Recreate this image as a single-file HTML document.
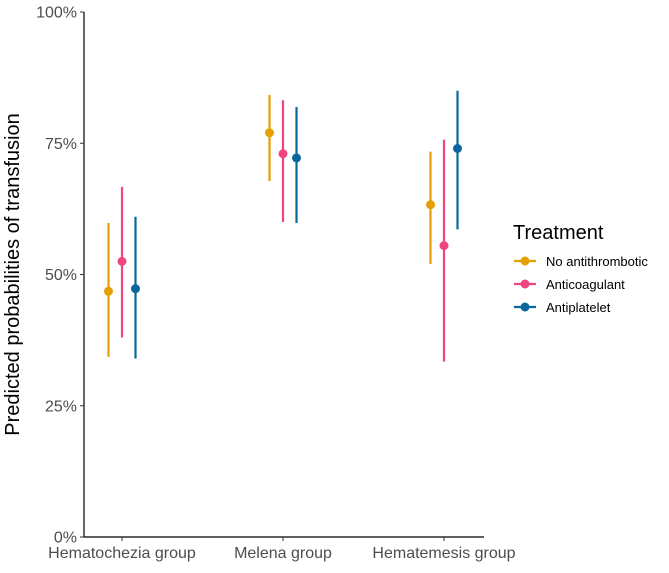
<!DOCTYPE html>
<html><head><meta charset="utf-8"><style>
body{margin:0;background:#fff;}
svg text{font-family:"Liberation Sans",Arial,sans-serif;}
</style></head><body>
<svg id="chart" width="669" height="568" viewBox="0 0 669 568">
<g id="axes"></g><g id="marks"></g><g id="legend"></g>
</svg>
<script>
const categories=["Hematochezia group","Melena group","Hematemesis group"];
const seriesNames=["No antithrombotic","Anticoagulant","Antiplatelet"];
const colors=["#E69F00","#F0457E","#0A679E"];
const est=[[46.8,77.0,63.3],[52.5,73.0,55.5],[47.3,72.2,74.0]];
const lower=[[34.3,67.8,52.0],[38.0,60.0,33.4],[34.0,59.8,58.6]];
const upper=[[59.8,84.2,73.4],[66.7,83.2,75.7],[61.0,81.9,85.0]];
const yTicks=[0,25,50,75,100];
const NS="http://www.w3.org/2000/svg";
function mk(t,a,p){const e=document.createElementNS(NS,t);for(const k in a)e.setAttribute(k,a[k]);p.appendChild(e);return e;}
const x0=84,x1=484,yb=537,yt=12;
const y=v=>yb-(v/100)*(yb-yt);
const xc=i=>122+161*i;
const dodge=s=>(s-1)*13.5;
const ax=document.getElementById('axes'),mg=document.getElementById('marks'),lg=document.getElementById('legend');
let a=mk('line',{x1:x0,y1:yt,x2:x0,y2:yb+0.5,stroke:'#000','stroke-width':1.2},ax);

a=mk('line',{x1:x0,y1:yb,x2:x1,y2:yb,stroke:'#000','stroke-width':1.2},ax);

yTicks.forEach(t=>{
 const l=mk('line',{x1:x0-4,y1:y(t),x2:x0,y2:y(t),stroke:'#333'},ax);
 
 const tx=mk('text',{x:x0-7,y:y(t)+5.5,'text-anchor':'end','font-size':16,fill:'#4d4d4d'},ax);tx.textContent=t+'%';
 
});
categories.forEach((c,i)=>{
 const l=mk('line',{x1:xc(i),y1:yb,x2:xc(i),y2:yb+4,stroke:'#333'},ax);
 
 const tx=mk('text',{x:xc(i),y:yb+21,'text-anchor':'middle','font-size':16,fill:'#4d4d4d'},ax);tx.textContent=c;
 
});
const yt2=mk('text',{x:0,y:0,transform:'translate(19,'+((yt+yb)/2)+') rotate(-90)','text-anchor':'middle','font-size':20,fill:'#000'},ax);
yt2.textContent='Predicted probabilities of transfusion';

seriesNames.forEach((s,si)=>{
 categories.forEach((c,i)=>{
  const x=xc(i)+dodge(si);
  const l=mk('line',{x1:x,y1:y(lower[si][i]),x2:x,y2:y(upper[si][i]),stroke:colors[si],'stroke-width':2.2},mg);
  
  const p=mk('circle',{cx:x,cy:y(est[si][i]),r:4.5,fill:colors[si]},mg);
  
 });
 const ly=261+si*23;
 const ll=mk('line',{x1:514,y1:ly,x2:536,y2:ly,stroke:colors[si],'stroke-width':2.2},lg);
 
 const lc=mk('circle',{cx:525,cy:ly,r:4.5,fill:colors[si]},lg);
 
 const lt=mk('text',{x:546,y:ly+5,'font-size':13,fill:'#000'},lg);lt.textContent=s;
 
});
const ttl=mk('text',{x:513,y:239,'font-size':20,fill:'#000'},lg);ttl.textContent='Treatment';

</script>
</body></html>
